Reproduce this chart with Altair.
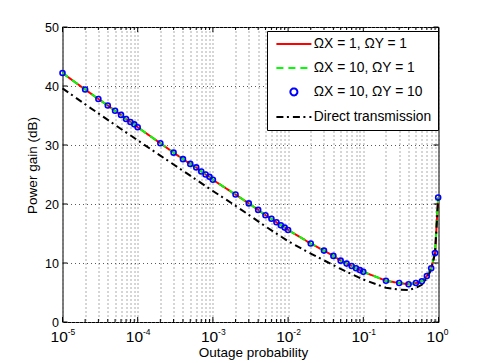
import altair as alt
import pandas as pd

# ---------------- data ----------------
p_relay = [1e-5, 2e-5, 3e-5, 4e-5, 5e-5, 6e-5, 7e-5, 8e-5, 9e-5,
           1e-4, 2e-4, 3e-4, 4e-4, 5e-4, 6e-4, 7e-4, 8e-4, 9e-4,
           1e-3, 2e-3, 3e-3, 4e-3, 5e-3, 6e-3, 7e-3, 8e-3, 9e-3,
           1e-2, 2e-2, 3e-2, 4e-2, 5e-2, 6e-2, 7e-2, 8e-2, 9e-2,
           0.1, 0.2, 0.3, 0.4, 0.5, 0.6, 0.7, 0.8, 0.9, 0.99]
gain_relay = [42.2, 39.4, 37.8, 36.7, 35.8, 35.1, 34.4, 33.9, 33.5,
              33.0, 30.3, 28.7, 27.6, 26.8, 26.2, 25.5, 25.0, 24.6,
              24.1, 21.6, 20.1, 19.0, 18.1, 17.5, 16.9, 16.4, 16.0,
              15.6, 13.3, 12.1, 11.2, 10.4, 9.9, 9.5, 9.1, 8.8,
              8.5, 7.0, 6.6, 6.4, 6.6, 6.9, 7.8, 9.1, 11.7, 21.1]
p_direct = [1e-5, 2e-5, 5e-5, 1e-4, 2e-4, 5e-4, 1e-3, 2e-3, 5e-3,
            1e-2, 2e-2, 5e-2, 0.1, 0.2, 0.3, 0.4, 0.5, 0.6, 0.7, 0.8, 0.9, 0.99]
gain_direct = [39.6, 36.9, 33.4, 30.8, 28.2, 24.8, 22.2, 19.7, 16.2,
               13.7, 11.6, 9.0, 7.2, 5.8, 5.5, 5.4, 5.8, 6.3, 7.4, 8.9, 11.7, 21.0]

series = ["ΩX = 1, ΩY = 1", "ΩX = 10, ΩY = 1", "ΩX = 10, ΩY = 10", "Direct transmission"]
colors = ["#ff0000", "#00ff00", "#0000ff", "#000000"]
dashes = [[1, 0], [7, 5], [1, 0], [7, 3.5, 2, 4]]
shapes = ["M-5,0H5", "M-5,0H5", "circle", "M-5,0H5"]

major_x = [1e-5, 1e-4, 1e-3, 1e-2, 1e-1, 1.0]
minor_x = [2e-5, 3e-5, 4e-5, 5e-5, 6e-5, 7e-5, 8e-5, 9e-5,
           2e-4, 3e-4, 4e-4, 5e-4, 6e-4, 7e-4, 8e-4, 9e-4,
           2e-3, 3e-3, 4e-3, 5e-3, 6e-3, 7e-3, 8e-3, 9e-3,
           2e-2, 3e-2, 4e-2, 5e-2, 6e-2, 7e-2, 8e-2, 9e-2,
           0.2, 0.3, 0.4, 0.5, 0.6, 0.7, 0.8, 0.9]
bases = ["10", "10", "10", "10", "10", "10"]
exponents = ["-5", "-4", "-3", "-2", "-1", "0"]
y_ticks = [0, 10, 20, 30, 40, 50]

W, H = 376, 295
FONT = "Liberation Sans"

# ---------------- tables ----------------
def frame(ps, gs, name):
    return pd.DataFrame({"p": ps, "g": gs, "s": [name] * len(ps)})

df_red = frame(p_relay, gain_relay, series[0])
df_green = frame(p_relay, gain_relay, series[1])
df_blue = frame(p_relay, gain_relay, series[2])
df_black = frame(p_direct, gain_direct, series[3])
df_major = pd.DataFrame({"p": major_x, "b": bases, "e": exponents})
df_minor = pd.DataFrame({"p": minor_x})
df_yt = pd.DataFrame({"g": y_ticks})

# ---------------- encodings ----------------
X = alt.X(
    "p:Q",
    scale=alt.Scale(type="log", domain=[1e-5, 1], nice=False),
    title="Outage probability",
    axis=alt.Axis(
        values=sorted(major_x + minor_x),
        grid=True, gridDash=[1, 3], gridColor="#5a5a5a", gridWidth=1,
        ticks=False, tickSize=0, domain=False, labels=False,
        titleFontSize=13.5, titleBaseline="alphabetic",
        titleX=190.5, titleY=34.5,
    ),
)
Y = alt.Y(
    "g:Q",
    scale=alt.Scale(domain=[0, 50], nice=False),
    title="Power gain (dB)",
    axis=alt.Axis(
        values=y_ticks,
        grid=True, gridDash=[1, 3], gridColor="#5a5a5a", gridWidth=1,
        ticks=False, tickSize=0, domain=False,
        labelFontSize=12.5, labelPadding=4,
        titleFontSize=13.5, titleBaseline="alphabetic",
        titleX=-26.5, titleY=138,
    ),
)
C = alt.Color("s:N", scale=alt.Scale(domain=series, range=colors), legend=alt.Legend(title=None))
D = alt.StrokeDash("s:N", scale=alt.Scale(domain=series, range=dashes), legend=alt.Legend(title=None))
S = alt.Shape("s:N", scale=alt.Scale(domain=series, range=shapes), legend=alt.Legend(title=None))

red = alt.Chart(df_red).mark_line(strokeWidth=2).encode(x=X, y=Y, color=C, strokeDash=D)
green = alt.Chart(df_green).mark_line(strokeWidth=2).encode(x=X, y=Y, color=C, strokeDash=D)
black = alt.Chart(df_black).mark_line(strokeWidth=2).encode(x=X, y=Y, color=C, strokeDash=D)
blue = alt.Chart(df_blue).mark_point(filled=False, size=25, strokeWidth=1.6, opacity=1).encode(
    x=X, y=Y, color=C, shape=S)

tick_style = dict(color="black", strokeWidth=1)
xmaj_b = alt.Chart(df_major).mark_rule(**tick_style).encode(x=X, y=alt.value(H), y2=alt.value(H - 5))
xmaj_t = alt.Chart(df_major).mark_rule(**tick_style).encode(x=X, y=alt.value(0), y2=alt.value(5))
xmin_b = alt.Chart(df_minor).mark_rule(**tick_style).encode(x=X, y=alt.value(H), y2=alt.value(H - 3))
xmin_t = alt.Chart(df_minor).mark_rule(**tick_style).encode(x=X, y=alt.value(0), y2=alt.value(3))
yt_l = alt.Chart(df_yt).mark_rule(**tick_style).encode(y=Y, x=alt.value(0), x2=alt.value(5))
yt_r = alt.Chart(df_yt).mark_rule(**tick_style).encode(y=Y, x=alt.value(W), x2=alt.value(W - 5))
base_lbl = alt.Chart(df_major).mark_text(
    align="center", baseline="top", dx=-3.3, fontSize=15.5, font=FONT, color="black"
).encode(x=X, y=alt.value(H + 8.2), text="b:N")
expo_lbl = alt.Chart(df_major).mark_text(
    align="left", baseline="top", dx=5.2, fontSize=8.5, font=FONT, color="black"
).encode(x=X, y=alt.value(301), text="e:N")

chart = (
    alt.layer(red, green, black, blue, xmaj_b, xmaj_t, xmin_b, xmin_t, yt_l, yt_r,
              base_lbl, expo_lbl)
    .properties(
        width=W, height=H,
        autosize=alt.AutoSizeParams(type="none"),
        padding={"left": 54.5, "top": 19, "right": 10, "bottom": 40},
    )
    .configure_view(stroke="black", strokeWidth=1)
    .configure_axis(labelFont=FONT, titleFont=FONT, labelColor="black", titleColor="black",
                    titleFontWeight="normal")
    .configure_legend(
        orient="none", legendX=204.5, legendY=4,
        strokeColor="black", fillColor="white", cornerRadius=0, padding=6,
        labelFont=FONT, labelFontSize=13.8, labelColor="black", labelLimit=300,
        symbolSize=49, symbolOffset=14, labelOffset=13, symbolStrokeWidth=2,
        rowPadding=9,
    )
)

chart.save("out.html", embed_options={"renderer": "svg", "actions": False})
